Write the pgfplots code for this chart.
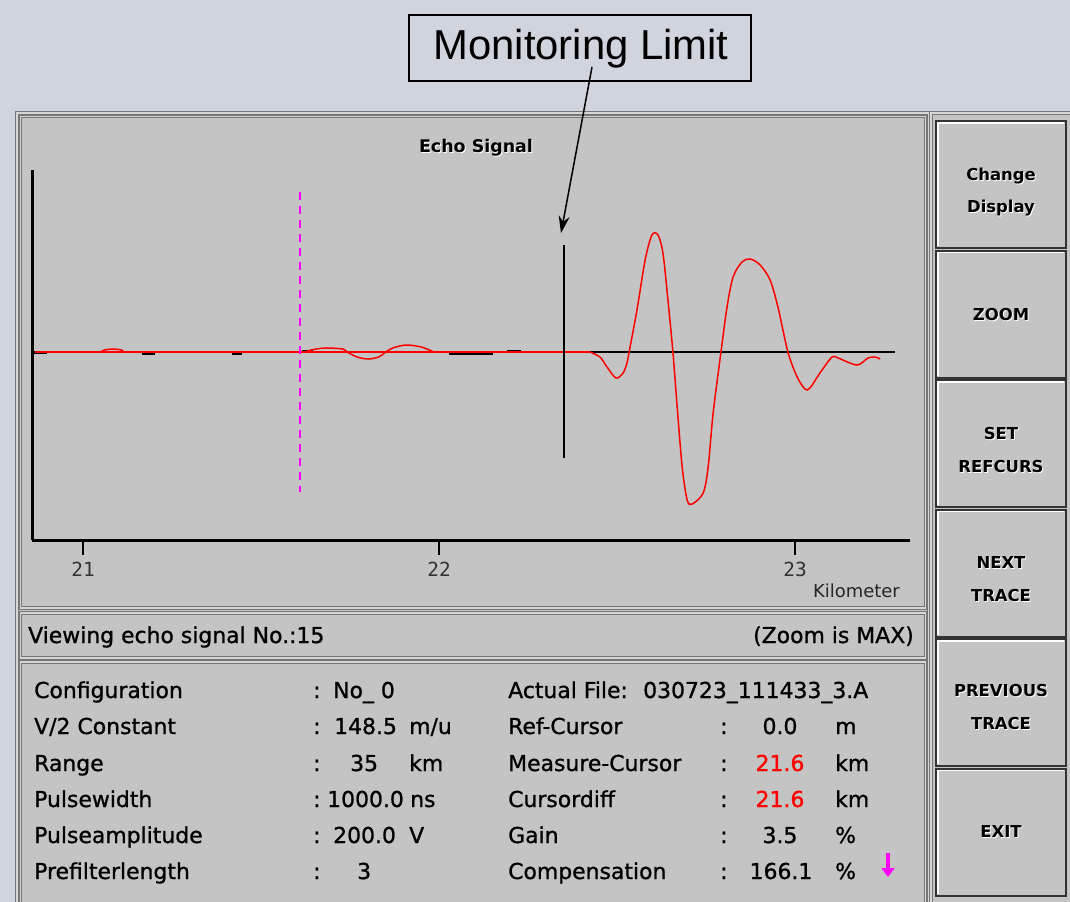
\documentclass[border=0pt]{standalone}
\usepackage{pgfplots}
\pgfplotsset{compat=1.18}
\usepackage{pgfplotstable}
\usepackage{fontspec}
\setmainfont{DejaVu Sans}
\newfontfamily\guifont{DejaVu Sans}[FakeBold=1]
\newfontfamily\limitfont{Liberation Sans}
\newfontfamily\tickfont{DejaVu Sans Mono}
\usetikzlibrary{arrows.meta}

\definecolor{bgc}{RGB}{208,212,220}
\definecolor{panel}{RGB}{196,196,196}
\definecolor{frame}{RGB}{118,118,118}
\definecolor{sig}{RGB}{255,0,0}
\definecolor{cursor}{RGB}{255,0,255}

% echo trace, km vs. amplitude (screen units, 0 = base line)
\pgfplotstableread{
km      amp
20.865  0
22.424  0
}\flat
\pgfplotstableread{
km      amp
21.050  0
21.060  2
21.084  3
21.108  2
21.115  0
}\ripA
\pgfplotstableread{
km      amp
21.626  0
21.640  2
21.680  4
21.730  3
21.742  0
21.770  -5
21.801  -7
21.830  -5
21.851  0
21.870  4
21.907  7
21.950  5
21.986  0
}\ripB
\pgfplotstableread{
km      amp
22.424  0
22.452  -5
22.472  -15
22.497  -26
22.517  -21
22.528  -11
22.534  0
22.556  42
22.579  92
22.598  117
22.615  117
22.629  99
22.643  52
22.657  0
22.669  -55
22.683  -115
22.697  -148
22.711  -152
22.742  -141
22.756  -115
22.770  -61
22.792  0
22.809  45
22.826  75
22.851  90
22.874  93
22.902  87
22.930  72
22.952  45
22.980  0
23.006  -25
23.028  -37
23.042  -36
23.070  -21
23.104  -5
23.121  -6
23.174  -13
23.205  -6
23.225  -5
23.239  -7
}\wave

\newcommand\gui{\guifont\fontsize{22}{26}\selectfont}
\newcommand\btn{\fontsize{16.5}{33}\selectfont\bfseries}

\begin{document}
\begin{tikzpicture}[x=1bp,y=1bp,
  txt/.style={inner sep=0pt, anchor=base west, font=\gui},
  etched/.style={draw=frame, double=panel!70!white, double distance=1.2bp, line width=1bp}]
\useasboundingbox (0,0) rectangle (1070,-902);
\fill[bgc] (0,0) rectangle (1070,-902);

% left container and panels
\fill[panel] (17,-113) rectangle (929,-910);
\draw[etched] (17,-113) rectangle (929,-910);
\draw[etched] (20.5,-116.5) rectangle (925.5,-608);
\draw[etched] (20.5,-613) rectangle (925.5,-658);
\draw[etched] (20.5,-662) rectangle (925.5,-910);

% right container and buttons
\fill[panel] (931,-113) rectangle (1075,-910);
\draw[etched] (931,-113) rectangle (1075,-910);
\foreach \top/\dy/\lab in {121/71/{Change\\Display},250.5/64/{ZOOM},380/70/{SET\\REFCURS},509.5/70/{NEXT\\TRACE},639/68/{PREVIOUS\\TRACE},768.5/63/{EXIT}} {
  \fill[panel] (936,-\top) rectangle (1066,-\top-127);
  \draw[black!80, line width=2bp] (936,-\top) rectangle (1066,-\top-127);
  \draw[white, line width=1.2bp] (938,-\top-125) -- (938,-\top-2) -- (1064,-\top-2);
  \node[align=center, font=\btn, white, inner sep=0pt] at (1002,-\top-\dy-1) {\lab};
  \node[align=center, font=\btn, black, inner sep=0pt] at (1001,-\top-\dy) {\lab};
}

% annotation box
\draw[black, line width=1.5bp, fill=bgc] (409,-15) rectangle (751,-81);
\node[inner sep=0pt, anchor=base, font=\limitfont\fontsize{42}{50}\selectfont] at (581,-59) {Monitoring Limit};

% chart title
\node[inner sep=0pt, anchor=base, font=\fontsize{17.5}{20}\selectfont\bfseries, white] at (477,-153) {Echo Signal};
\node[inner sep=0pt, anchor=base, font=\fontsize{17.5}{20}\selectfont\bfseries] at (476,-152) {Echo Signal};

\begin{axis}[
  at={(32bp,-540bp)}, anchor=south west,
  scale only axis, width=878bp, height=370bp,
  xmin=20.8567, xmax=23.3230, ymin=-188, ymax=182,
  axis x line=bottom, axis y line=left,
  axis line style={line width=3bp, -, black},
  xtick={21,22,23}, xticklabels={21,22,23}, ytick=\empty,
  tick align=outside, major tick length=15bp,
  xtick style={line width=1.2bp, black},
  xticklabel style={font=\tickfont\fontsize{19.5}{22}\selectfont, text=black!80, yshift=-4bp},
  clip=false,
]
  \addplot[black, line width=1.2bp] coordinates {(20.857,0) (23.281,0)};
  % small dark bits along the base line
  \addplot[black, line width=3bp] coordinates {(20.8624,-0.5) (20.8989,-0.5)};
  \addplot[black, line width=3bp] coordinates {(21.1657,-1) (21.2022,-1)};
  \addplot[black, line width=3bp] coordinates {(21.4185,-1) (21.4466,-1)};
  \addplot[black, line width=3bp] coordinates {(21.6152,0.5) (21.6461,0.5)};
  \addplot[black, line width=3bp] coordinates {(22.0281,-1) (22.1517,-1)};
  \addplot[black, line width=3bp] coordinates {(22.1910,0.5) (22.2303,0.5)};
  % echo trace
  \addplot[sig, line width=1.5bp] table[x=km, y=amp] {\flat};
  \addplot[sig, line width=1.5bp, smooth, tension=0.5] table[x=km, y=amp] {\ripA};
  \addplot[sig, line width=1.5bp, smooth, tension=0.5] table[x=km, y=amp] {\ripB};
  \addplot[sig, line width=1.5bp, smooth, tension=0.5] table[x=km, y=amp] {\wave};
  % monitoring limit
  \addplot[black, line width=1.5bp] coordinates {(22.351,107) (22.351,-106)};
  % measure cursor
  \addplot[cursor, line width=1.5bp, dash pattern=on 8bp off 6bp] coordinates {(21.6096,160) (21.6096,-140)};
\end{axis}

\node[inner sep=0pt, anchor=base east, font=\fontsize{18}{21}\selectfont, black!85] at (900,-597) {Kilometer};

% arrow from the annotation
\draw[black, line width=1.5bp, -{Stealth[length=17bp, width=11bp]}] (592,-67) -- (561,-233);

% status line
\node[txt] at (28,-643) {Viewing echo signal No.:15};
\node[txt, anchor=base east] at (914,-643) {(Zoom is MAX)};

% parameter block, left
\node[txt] at (34,-698) {Configuration};
\node[txt] at (34,-734) {V/2 Constant};
\node[txt] at (34,-771) {Range};
\node[txt] at (34,-807) {Pulsewidth};
\node[txt] at (34,-843) {Pulseamplitude};
\node[txt] at (34,-879) {Prefilterlength};
\foreach \y in {698,734,771,807,843,879} \node[txt] at (313,-\y) {:};
\node[txt] at (333,-698) {No\_ 0};
\node[txt] at (334,-734) {148.5};
\node[txt] at (409,-734) {m/u};
\node[txt] at (350,-771) {35};
\node[txt] at (409,-771) {km};
\node[txt] at (327,-807) {1000.0};
\node[txt] at (410,-807) {ns};
\node[txt] at (333,-843) {200.0};
\node[txt] at (409,-843) {V};
\node[txt] at (357,-879) {3};

% parameter block, right
\node[txt] at (508,-698) {Actual File:};
\node[txt] at (643,-698) {030723\_111433\_3.A};
\node[txt] at (508,-734) {Ref-Cursor};
\node[txt] at (508,-771) {Measure-Cursor};
\node[txt] at (508,-807) {Cursordiff};
\node[txt] at (508,-843) {Gain};
\node[txt] at (508,-879) {Compensation};
\foreach \y in {734,771,807,843,879} \node[txt] at (720,-\y) {:};
\node[txt, anchor=base] at (780,-734) {0.0};
\node[txt, anchor=base, text=sig] at (780,-771) {21.6};
\node[txt, anchor=base, text=sig] at (780,-807) {21.6};
\node[txt, anchor=base] at (780,-843) {3.5};
\node[txt, anchor=base] at (781,-879) {166.1};
\node[txt] at (835,-734) {m};
\node[txt] at (835,-771) {km};
\node[txt] at (835,-807) {km};
\node[txt] at (835,-843) {\%};
\node[txt] at (835,-879) {\%};
\draw[cursor, line width=3.5bp, -{Triangle[length=9bp, width=13bp]}] (888,-853) -- (888,-877);
\end{tikzpicture}
\end{document}
